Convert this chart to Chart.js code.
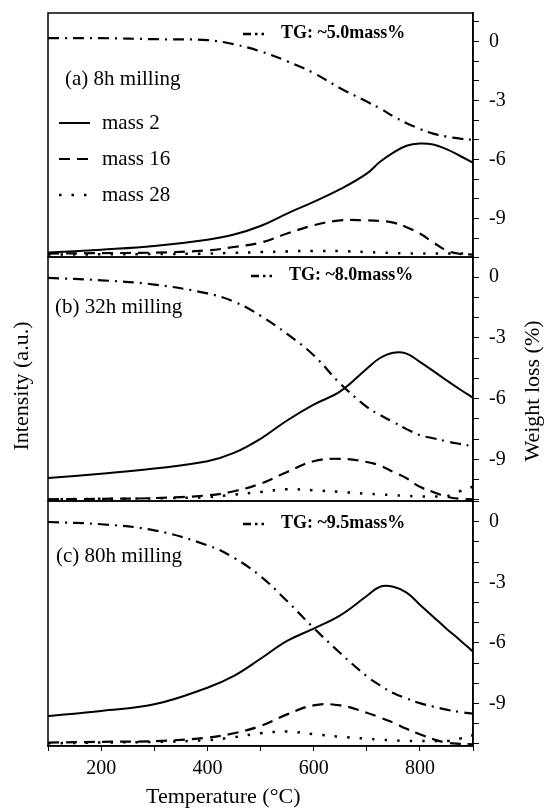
<!DOCTYPE html>
<html>
<head>
<meta charset="utf-8">
<script src="https://cdn.jsdelivr.net/npm/chart.js@4.4.0/dist/chart.umd.min.js"></script>
<style>
  body { margin: 0; background: #fff; }
  #wrap { position: relative; width: 544px; height: 808px; }
  #wrap canvas { position: absolute; left: 0; top: 0; }
</style>
</head>
<body>
<div id="wrap">
  <canvas id="panelA" width="544" height="808"></canvas>
  <canvas id="panelB" width="544" height="808"></canvas>
  <canvas id="panelC" width="544" height="808"></canvas>
</div>
<script>
// temperature samples (°C)
const tempC = [100, 200, 300, 400, 450, 500, 550, 600, 650, 700, 725, 750, 775, 800, 825, 850, 875, 900];

// (a) 8h milling - intensity (a.u.) and weight loss (%)
const mass2A  = [1.8, 3.0, 4.5, 7.1, 9.2, 12.7, 17.8, 22.6, 27.8, 34.2, 39.0, 42.8, 45.6, 46.5, 46.1, 44.2, 41.5, 38.7];
const mass16A = [1.4, 1.6, 1.8, 2.7, 4.1, 5.9, 9.6, 13.0, 15.0, 15.0, 14.8, 14.1, 12.2, 9.6, 6.0, 2.7, 1.3, 1.0];
const mass28A = [1.0, 1.1, 1.2, 1.4, 1.7, 2.0, 2.3, 2.5, 2.4, 2.0, 1.8, 1.6, 1.5, 1.4, 1.4, 1.4, 1.4, 1.4];
const tgA     = [0.17, 0.17, 0.12, 0.07, -0.14, -0.5, -1.0, -1.6, -2.37, -3.05, -3.4, -3.8, -4.15, -4.44, -4.68, -4.83, -4.93, -5.0];

// (b) 32h milling
const mass2B  = [9.4, 11.2, 13.3, 16.3, 19.7, 25.5, 33.0, 39.5, 44.9, 54.2, 58.6, 60.8, 60.4, 57.0, 53.3, 49.5, 45.8, 42.3];
const mass16B = [0.7, 0.9, 1.2, 2.3, 4.0, 7.1, 11.9, 16.3, 17.3, 16.0, 14.5, 11.9, 9.3, 5.8, 3.7, 1.8, 0.9, 0.7];
const mass28B = [0.7, 0.9, 1.1, 1.6, 2.6, 3.7, 4.8, 4.4, 3.7, 3.0, 2.7, 2.4, 2.1, 1.9, 1.9, 1.9, 4.0, 5.9];
const tgB     = [-0.03, -0.15, -0.36, -0.8, -1.2, -1.9, -2.8, -3.85, -5.25, -6.4, -6.8, -7.15, -7.5, -7.8, -7.95, -8.1, -8.23, -8.35];

// (c) 80h milling
const mass2C  = [12.2, 14.3, 17.0, 23.8, 28.6, 35.6, 42.9, 47.9, 53.3, 61.2, 65.0, 65.0, 62.6, 57.7, 52.8, 47.9, 43.3, 38.5];
const mass16C = [1.4, 1.7, 2.0, 3.4, 5.2, 8.2, 12.9, 16.6, 16.6, 13.6, 11.6, 9.5, 7.0, 4.8, 2.8, 1.4, 0.9, 0.7];
const mass28C = [1.1, 1.4, 1.7, 2.4, 3.6, 5.2, 5.9, 4.8, 3.8, 3.0, 2.6, 2.3, 2.1, 2.0, 2.0, 2.0, 3.0, 4.4];
const tgC     = [-0.02, -0.13, -0.43, -1.17, -1.79, -2.7, -3.93, -5.26, -6.5, -7.65, -8.1, -8.48, -8.75, -8.98, -9.15, -9.3, -9.42, -9.5];

const seriesNames = ['mass 2', 'mass 16', 'mass 28'];
const tgLabels = ['TG: ~5.0mass%', 'TG: ~8.0mass%', 'TG: ~9.5mass%'];
const panelLabels = ['(a) 8h milling', '(b) 32h milling', '(c) 80h milling'];
const xTicks = [200, 400, 600, 800];

const serif = '"Liberation Serif", "Times New Roman", serif';
const dashes = { solid: [], dash: [11, 7], dot: [2.5, 10], dashDot: [11, 6, 2, 6] };
const widths = { solid: 2, dash: 2.2, dot: 2.5, dashDot: 2.2 };

function pts(ys) {
  return tempC.map((t, i) => ({ x: t, y: ys[i] }));
}

function line(label, ys, kind, axis) {
  return {
    label: label,
    data: pts(ys),
    yAxisID: axis,
    borderColor: '#000',
    borderWidth: widths[kind],
    borderDash: dashes[kind],
    pointRadius: 0,
    fill: false,
    tension: 0.4
  };
}

function text(ctx, str, x, y, size, bold, rotate) {
  ctx.save();
  ctx.fillStyle = '#000';
  ctx.font = (bold ? 'bold ' : '') + size + 'px ' + serif;
  ctx.textBaseline = 'middle';
  ctx.translate(x, y);
  if (rotate) {
    ctx.rotate(-Math.PI / 2);
    ctx.textAlign = 'center';
  } else {
    ctx.textAlign = 'left';
  }
  ctx.fillText(str, 0, 0);
  ctx.restore();
}

function sample(ctx, dash, x1, x2, y, w) {
  ctx.save();
  ctx.strokeStyle = '#000';
  ctx.lineWidth = w;
  ctx.setLineDash(dash);
  ctx.beginPath();
  ctx.moveTo(x1, y);
  ctx.lineTo(x2, y);
  ctx.stroke();
  ctx.restore();
}

function makePanel(id, idx, top, bottom, tgMin, tgMax, d, notes) {
  const last = idx === 2;
  const decor = {
    id: 'decor' + idx,
    afterDraw(chart) {
      const ctx = chart.ctx;
      const a = chart.chartArea;
      ctx.save();
      ctx.strokeStyle = '#000';
      ctx.lineWidth = 1.5;
      ctx.strokeRect(a.left, a.top, a.right - a.left, a.bottom - a.top);
      ctx.restore();
      text(ctx, panelLabels[idx], notes.label[0], notes.label[1], 21);
      // TG key: a short dash followed by two dots
      sample(ctx, [8, 4, 2.5, 4, 2.5, 40], notes.tg[0] - 38, notes.tg[0] - 16, notes.tg[1] + 1, 2.5);
      text(ctx, tgLabels[idx], notes.tg[0], notes.tg[1], 18, true);
      if (idx === 0) {
        const lys = [123, 159, 195];
        ['solid', 'dash', 'dot'].forEach((kind, k) => {
          sample(ctx, dashes[kind], 59, 90, lys[k], widths[kind]);
          text(ctx, seriesNames[k], 102, lys[k], 21);
        });
      }
      if (idx === 1) {
        text(ctx, 'Intensity (a.u.)', 22, 386, 22, false, true);
        text(ctx, 'Weight loss (%)', 533, 391, 22, false, true);
      }
      if (last) {
        text(ctx, 'Temperature (°C)', 146, 797, 22);
      }
    }
  };

  const xAxis = {
    type: 'linear',
    display: last,
    min: 100,
    max: 900,
    ticks: {
      stepSize: 100,
      autoSkip: false,
      maxRotation: 0,
      color: '#000',
      font: { family: serif, size: 20 },
      padding: 6,
      callback: v => (xTicks.includes(v) ? String(v) : '')
    },
    grid: { drawOnChartArea: false, drawTicks: true, tickLength: 5, color: '#000', lineWidth: 1 },
    border: { display: true, color: '#000', width: 1.5 }
  };
  if (last) {
    xAxis.afterFit = s => { s.height = 808 - bottom; };
  }

  return new Chart(document.getElementById(id), {
    type: 'line',
    data: {
      datasets: [
        line(seriesNames[0], d[0], 'solid', 'y'),
        line(seriesNames[1], d[1], 'dash', 'y'),
        line(seriesNames[2], d[2], 'dot', 'y'),
        line('TG', d[3], 'dashDot', 'y2')
      ]
    },
    options: {
      responsive: false,
      animation: false,
      devicePixelRatio: 1,
      layout: { padding: { left: 48, right: 0, top: top, bottom: last ? 0 : 808 - bottom } },
      plugins: { legend: { display: false }, tooltip: { enabled: false } },
      scales: {
        x: xAxis,
        y: { display: false, min: 0, max: 100 },
        y2: {
          position: 'right',
          min: tgMin,
          max: tgMax,
          ticks: {
            stepSize: 1,
            includeBounds: false,
            autoSkip: false,
            color: '#000',
            font: { family: serif, size: 20 },
            padding: 10,
            callback: v => (Math.abs(Math.round(v)) % 3 === 0 ? String(Math.round(v)) : '')
          },
          grid: { drawOnChartArea: false, drawTicks: true, tickLength: 6, color: '#000', lineWidth: 1 },
          border: { display: true, color: '#000', width: 1.5 },
          afterFit: s => {
            s.width = 71;
            s.paddingTop = 0;
            s.paddingBottom = 0;
          }
        }
      }
    },
    plugins: [decor]
  });
}

makePanel('panelA', 0, 13, 257, -10.95, 1.45, [mass2A, mass16A, mass28A, tgA],
  { label: [65, 79], tg: [281, 33] });
makePanel('panelB', 1, 257, 501, -11.05, 1.0, [mass2B, mass16B, mass28B, tgB],
  { label: [55, 307], tg: [289, 275] });
makePanel('panelC', 2, 501, 746, -11.1, 1.02, [mass2C, mass16C, mass28C, tgC],
  { label: [56, 556], tg: [281, 523] });
</script>
</body>
</html>
